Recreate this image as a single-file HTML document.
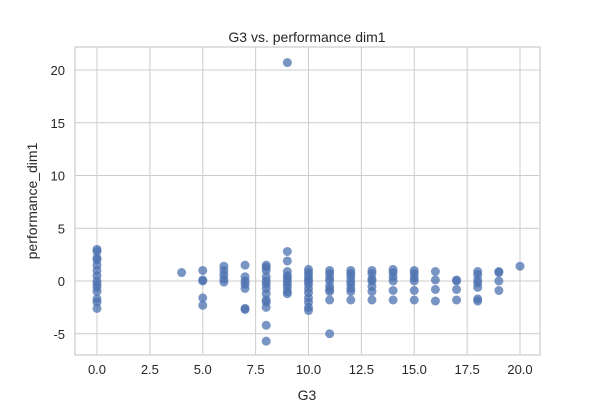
<!DOCTYPE html>
<html><head><meta charset="utf-8"><style>
body{margin:0;background:#fff;font-family:"Liberation Sans","DejaVu Sans",sans-serif}
svg text{font-family:"Liberation Sans","DejaVu Sans",sans-serif;fill:#262626}
</style></head><body>
<svg id="chart" width="600" height="400" viewBox="0 0 600 400">
<rect x="75" y="47" width="465" height="308" fill="#fff" stroke="#ccc" stroke-width="1.2"/>
<g id="grid"></g><g id="pts"></g><g id="ticks"></g>
<text x="307" y="42" text-anchor="middle" font-size="14">G3 vs. performance dim1</text>
<text x="307" y="400" text-anchor="middle" font-size="14">G3</text>
<text transform="translate(37,201) rotate(-90)" text-anchor="middle" font-size="14">performance_dim1</text>
</svg>
<script>
const g3Values=[0,4,5,6,7,8,9,10,11,12,13,14,15,16,17,18,19,20];
const perfValues=[
[3,2.8,2.2,2,1.5,1,0.5,0,-0.3,-0.6,-1,-1.7,-2,-2.6],
[0.8],
[1.0,0.1,0,-1.6,-2.3],
[1.4,1.0,0.6,0.2,-0.1],
[1.5,0.4,0,-0.3,-0.7,-2.6,-2.7],
[1.5,1.3,1.0,0.4,0,-0.3,-0.7,-1.2,-1.8,-2.0,-2.5,-4.2,-5.7],
[20.7,2.8,1.9,0.9,0.5,0.3,0,-0.3,-0.6,-1.0,-1.2],
[1.1,0.8,0.5,0.2,0,-0.3,-0.7,-1.1,-1.6,-2.0,-2.5,-2.8],
[1.0,0.7,0.3,0,-0.5,-0.8,-1.0,-1.8,-5.0],
[1.0,0.7,0.4,0,-0.3,-0.7,-1.0,-1.8],
[1.0,0.7,0.2,0,-0.5,-1.0,-1.8],
[1.1,0.8,0.4,0,-0.9,-1.8],
[1.0,0.7,0.3,0,-0.9,-1.8],
[0.9,0.1,-0.8,-1.9],
[0.1,0,-0.8,-1.8],
[0.9,0.6,0.1,-0.2,-0.6,-1.7,-1.9],
[0.9,0.8,0,-0.9],
[1.4]];
const xTicks=[0,2.5,5,7.5,10,12.5,15,17.5,20];
const yTicks=[-5,0,5,10,15,20];
const NS="http://www.w3.org/2000/svg";
const xs=v=>97+v*21.15, ys=v=>281-v*10.55;
const grid=document.getElementById('grid'),tk=document.getElementById('ticks'),pts=document.getElementById('pts');
function mk(tag,a,p){const e=document.createElementNS(NS,tag);for(const k in a)e.setAttribute(k,a[k]);p.appendChild(e);return e;}
xTicks.forEach(t=>{
 const l=mk('line',{x1:xs(t),x2:xs(t),y1:47,y2:355,stroke:'#ccc','stroke-width':1},grid);
 
 
 const tx=mk('text',{x:xs(t),y:374,'text-anchor':'middle','font-size':13},tk);tx.textContent=t.toFixed(1);
 
 
});
yTicks.forEach(t=>{
 const l=mk('line',{x1:75,x2:540,y1:ys(t),y2:ys(t),stroke:'#ccc','stroke-width':1},grid);
 
 
 const tx=mk('text',{x:65,y:ys(t)+5,'text-anchor':'end','font-size':13},tk);tx.textContent=t;
 
 
});
g3Values.forEach((g,i)=>perfValues[i].forEach(v=>{
 const c=mk('circle',{cx:xs(g),cy:ys(v),r:4.5,fill:'#4c72b0','fill-opacity':0.75},pts);
 
 
}));
</script>
</body></html>
